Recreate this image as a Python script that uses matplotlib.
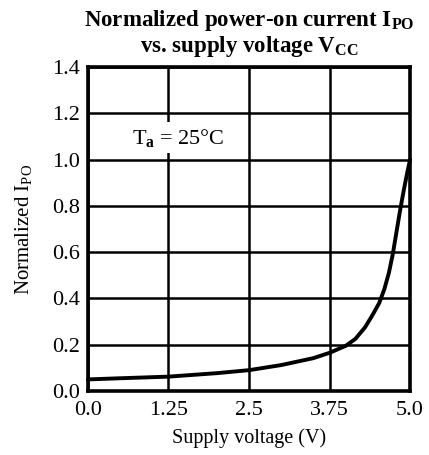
import matplotlib
matplotlib.use("Agg")
import matplotlib.pyplot as plt
import numpy as np

plt.rcParams['font.family'] = ['Liberation Serif', 'DejaVu Serif']
plt.rcParams['mathtext.fontset'] = 'custom'
plt.rcParams['mathtext.rm'] = 'Liberation Serif'
plt.rcParams['mathtext.it'] = 'Liberation Serif:italic'
plt.rcParams['mathtext.bf'] = 'Liberation Serif:bold'

# Data
voltage = [0.0, 0.5, 1.25, 2.0, 2.5, 3.0, 3.5, 3.75, 4.0, 4.15, 4.3, 4.42, 4.52, 4.6, 4.67, 4.73, 4.79, 4.85, 4.91, 4.96, 5.0]
norm_ipo = [0.05, 0.055, 0.062, 0.077, 0.09, 0.112, 0.142, 0.165, 0.195, 0.225, 0.275, 0.33, 0.38, 0.44, 0.51, 0.59, 0.69, 0.79, 0.88, 0.95, 1.0]
xticks = [0.0, 1.25, 2.5, 3.75, 5.0]
xticklabels = ['0.0', '1.25', '2.5', '3.75', '5.0']
yticks = [0.0, 0.2, 0.4, 0.6, 0.8, 1.0, 1.2, 1.4]
yticklabels = ['0.0', '0.2', '0.4', '0.6', '0.8', '1.0', '1.2', '1.4']

fig = plt.figure(figsize=(4.29, 4.55), dpi=100)
ax = fig.add_axes([0.205, 0.1407, 0.751, 0.712])

ax.plot(voltage, norm_ipo, color='black', lw=2.8, solid_capstyle='round',
        solid_joinstyle='round', zorder=3, clip_on=False)

ax.set_xlim(0, 5.0)
ax.set_ylim(0, 1.4)
ax.set_xticks(xticks)
ax.set_xticklabels(xticklabels)
ax.set_yticks(yticks)
ax.set_yticklabels(yticklabels)
ax.tick_params(length=0, labelsize=16)
ax.tick_params(axis='y', pad=6)
ax.tick_params(axis='x', pad=7)
ax.grid(True, color='black', lw=1.8)
for s in ax.spines.values():
    s.set_linewidth(2.6)

ax.text(1.4, 1.095, r'T$_{\mathbf{a}}$ = 25°C', fontsize=16, ha='center', va='center',
        bbox=dict(facecolor='white', edgecolor='none', pad=3), zorder=4)

ax.set_xlabel('Supply voltage (V)', fontsize=14.5, labelpad=6)
ax.set_ylabel(r'Normalized I$_{\mathrm{PO}}$', fontsize=15, labelpad=13)
ax.set_title('Normalized power-on current I$_{\\mathbf{PO}}$\nvs. supply voltage V$_{\\mathbf{CC}}$',
             fontsize=16.5, fontweight='bold', linespacing=1.05, pad=11)

fig.savefig('out.png', dpi=100)
